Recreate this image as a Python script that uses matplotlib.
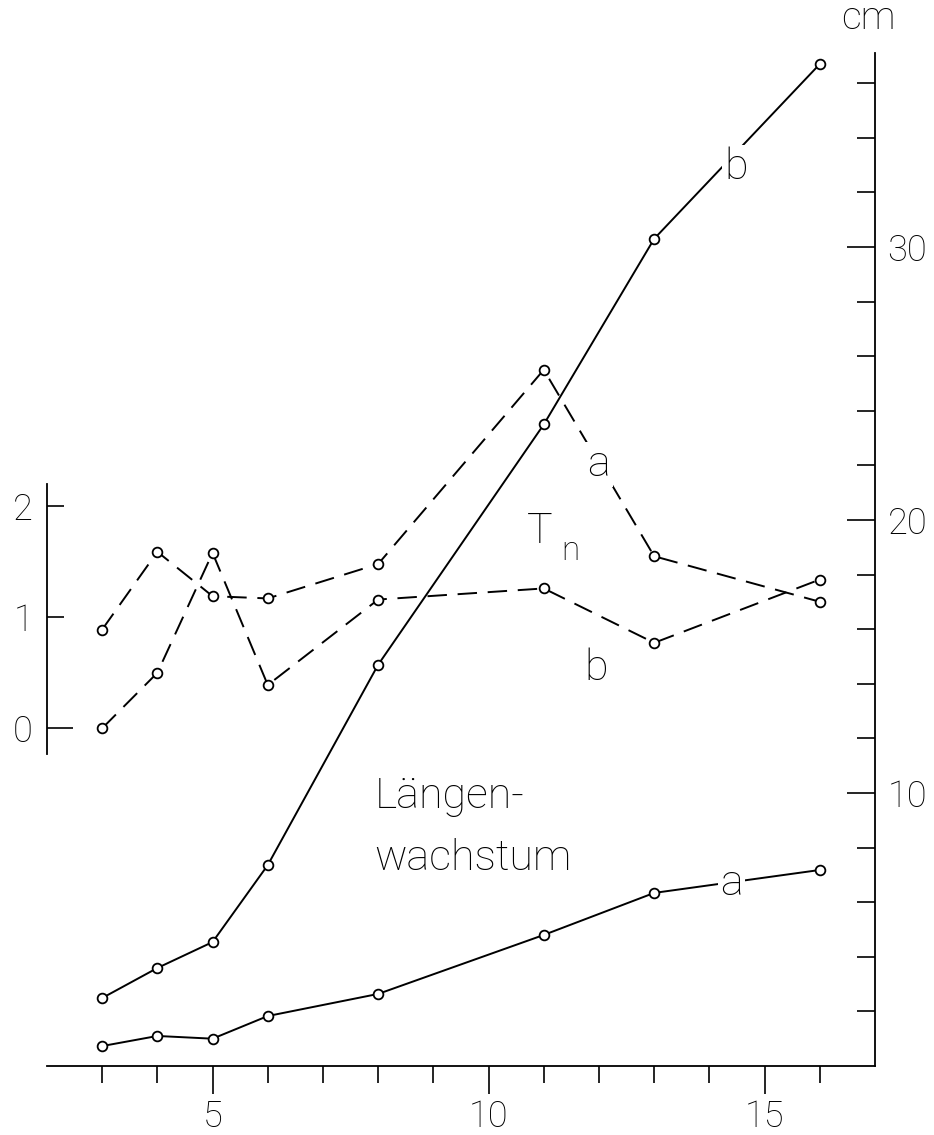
import matplotlib.pyplot as plt

# Wochen (x) und Messwerte
weeks = [3, 4, 5, 6, 8, 11, 13, 16]
len_a = [0.73, 1.1, 1.0, 1.83, 2.64, 4.8, 6.34, 7.18]      # cm
len_b = [2.49, 3.59, 4.54, 7.36, 14.7, 23.5, 30.3, 36.7]   # cm
tn_a = [0.89, 1.59, 1.19, 1.17, 1.48, 3.23, 1.55, 1.14]
tn_b = [0.0, 0.50, 1.58, 0.39, 1.16, 1.26, 0.77, 1.34]

x_major = [5, 10, 15]
x_minor = [3, 4, 6, 7, 8, 9, 11, 12, 13, 14, 16]
cm_major = [10, 20, 30]
cm_minor = [v for v in range(2, 37, 2) if v % 10]
tn_ticks = [1, 2]

# Lage der Tn-Skala auf der cm-Skala
TN_ZERO_CM = 12.37
TN_UNIT_CM = 4.066

plt.rcParams['font.family'] = ['Roboto', 'DejaVu Sans']
plt.rcParams['font.weight'] = 'light'

fig = plt.figure(figsize=(9.34, 11.35), dpi=100)
rect = [0.0503, 0.0608, 0.8865, 0.914]
ax = fig.add_axes(rect)
ax2 = fig.add_axes(rect)

lw = 1.4
mk = dict(marker='o', ms=7, mfc='white', mec='black', mew=1.3)

# Längenwachstum (cm)
ax.plot(weeks, len_a, color='black', lw=lw, **mk)
ax.plot(weeks, len_b, color='black', lw=lw, **mk)
ax.set_xlim(2, 17)
ax.set_ylim(0, 38)
ax.spines[['top', 'left']].set_visible(False)
ax.spines[['right', 'bottom']].set_linewidth(1.3)
ax.spines['right'].set_bounds(0, 37.1)
ax.yaxis.tick_right()
ax.set_yticks(cm_major)
ax.set_yticks(cm_minor, minor=True)
ax.set_xticks(x_major)
ax.set_xticks(x_minor, minor=True)
ax.tick_params(axis='y', which='major', direction='in', length=20, width=1.2, pad=9, labelsize=26)
ax.tick_params(axis='y', which='minor', direction='in', length=13, width=1.2)
ax.tick_params(axis='x', which='major', direction='out', length=20, width=1.2, pad=4, labelsize=26)
ax.tick_params(axis='x', which='minor', direction='out', length=12, width=1.2)

# Tn (gestrichelt)
ax2.plot(weeks, tn_a, color='black', lw=lw, dashes=(10, 5.5), **mk)
ax2.plot(weeks, tn_b, color='black', lw=lw, dashes=(10, 5.5), **mk)
ax2.set_xlim(2, 17)
ax2.set_ylim((0 - TN_ZERO_CM) / TN_UNIT_CM, (38 - TN_ZERO_CM) / TN_UNIT_CM)
ax2.patch.set_visible(False)
ax2.spines[['top', 'right', 'bottom']].set_visible(False)
ax2.spines['left'].set_bounds(-0.23, 2.2)
ax2.spines['left'].set_linewidth(1.3)
ax2.xaxis.set_visible(False)
ax2.set_yticks(tn_ticks)
ax2.set_yticks([0], labels=['0'], minor=True)
ax2.tick_params(axis='y', which='major', direction='in', length=12, width=1.2, pad=10, labelsize=26)
ax2.tick_params(axis='y', which='minor', direction='in', length=19, width=1.2, pad=10, labelsize=26)

# Beschriftungen (in cm-Koordinaten, über allen Linien)
fs = 31
tr = ax.transData
gap = dict(facecolor='white', edgecolor='none', pad=1.5)
ax2.text(16.38, 38.0, 'cm', fontsize=28, ha='left', va='baseline', transform=tr, clip_on=False)
ax2.text(14.48, 32.5, 'b', fontsize=fs, ha='center', va='baseline', transform=tr, bbox=gap, zorder=5)
ax2.text(12.0, 21.6, 'a', fontsize=fs, ha='center', va='baseline', transform=tr, bbox=gap, zorder=5)
ax2.text(10.70, 19.16, 'T', fontsize=fs, ha='left', va='baseline', transform=tr)
ax2.text(11.31, 18.53, 'n', fontsize=24, ha='left', va='baseline', transform=tr)
ax2.text(11.95, 14.14, 'b', fontsize=fs, ha='center', va='baseline', transform=tr, bbox=gap, zorder=5)
ax2.text(7.93, 9.45, 'Längen-', fontsize=fs, ha='left', va='baseline', transform=tr)
ax2.text(7.93, 7.18, 'wachstum', fontsize=fs, ha='left', va='baseline', transform=tr)
ax2.text(14.4, 6.26, 'a', fontsize=fs, ha='center', va='baseline', transform=tr, bbox=gap, zorder=5)

fig.savefig('out.png', dpi=100)
